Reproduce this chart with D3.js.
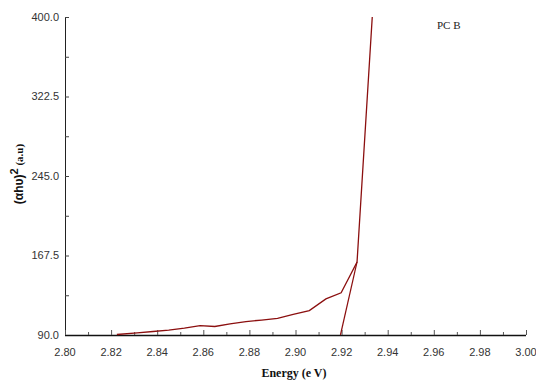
<!DOCTYPE html>
<html>
<head>
<meta charset="utf-8">
<script src="https://cdn.jsdelivr.net/npm/d3@7"></script>
<style>
  body { margin: 0; background: #fff; }
  svg { display: block; }
</style>
</head>
<body>
<svg id="chart" width="536" height="381"></svg>
<script>
// photon energy (eV) and (alpha h nu)^2
const energy = [2.8225, 2.8313, 2.8382, 2.8450, 2.8518, 2.8586, 2.8650, 2.8716,
  2.8785, 2.8853, 2.8922, 2.8990, 2.9060, 2.9132, 2.9198, 2.9267, 2.9333];
const absorb = [90.5, 92.0, 93.4, 94.8, 96.8, 99.2, 98.3, 100.9,
  103.1, 104.6, 106.3, 110.0, 113.8, 125.2, 131.1, 161.2, 400.0];

// linear fit used to read the band gap
const tangentX = [2.9195, 2.9267];
const tangentY = [90.0, 161.2];

const xTicks = [2.80, 2.82, 2.84, 2.86, 2.88, 2.90, 2.92, 2.94, 2.96, 2.98, 3.00];
const yTicks = [90.0, 167.5, 245.0, 322.5, 400.0];

const svg = d3.select('#chart');
const plotLeft = 65, plotRight = 526, plotTop = 17, plotBottom = 335;
const lineColor = '#8b0f0f';

const x = d3.scaleLinear().domain([2.80, 3.00]).range([plotLeft, plotRight]);
const y = d3.scaleLinear().domain([90, 400]).range([plotBottom, plotTop]);

// y axis, ticks point inward
const yAxis = svg.append('g')
	.attr('transform', `translate(${plotLeft},0)`)
	.call(d3.axisRight(y)
		.tickValues(d3.range(0, 9).map(i => 90 + i * 38.75))
		.tickSize(4)
		.tickFormat(''));
yAxis.select('.domain').attr('stroke', '#222').attr('d', `M0.5,${plotTop}V${plotBottom}`);
yAxis.selectAll('.tick line').attr('stroke', '#444');

svg.append('g')
	.selectAll('text')
	.data(yTicks)
	.enter().append('text')
		.attr('x', plotLeft - 6)
		.attr('y', d => y(d))
		.attr('dy', '0.35em')
		.attr('text-anchor', 'end')
		.attr('font-family', 'Liberation Sans, Arial, sans-serif')
		.attr('font-size', '11px')
		.attr('fill', '#333')
		.text(d => d.toFixed(1));

// x axis, ticks every 0.01 pointing up
const xAxis = svg.append('g')
	.attr('transform', `translate(0,${plotBottom})`)
	.call(d3.axisTop(x)
		.tickValues(d3.range(0, 21).map(i => 2.80 + i * 0.01))
		.tickSize(3)
		.tickFormat(''));
xAxis.select('.domain').attr('stroke', '#111').attr('stroke-width', 1.5).attr('d', `M${plotLeft},0.5H${plotRight}`);
xAxis.selectAll('.tick line')
	.attr('stroke', '#555')
	.attr('y2', (d, i) => i % 2 === 0 ? -5 : -3);

svg.append('g')
	.selectAll('text')
	.data(xTicks)
	.enter().append('text')
		.attr('x', d => x(d))
		.attr('y', 356)
		.attr('text-anchor', 'middle')
		.attr('font-family', 'Liberation Sans, Arial, sans-serif')
		.attr('font-size', '11px')
		.attr('fill', '#333')
		.text(d => d.toFixed(2));

// data curve
const line = d3.line()
	.x(d => x(d[0]))
	.y(d => y(d[1]));

svg.append('path')
	.datum(d3.zip(energy, absorb))
	.attr('d', line)
	.attr('fill', 'none')
	.attr('stroke', lineColor)
	.attr('stroke-width', 1.3);

svg.append('path')
	.datum(d3.zip(tangentX, tangentY))
	.attr('d', line)
	.attr('fill', 'none')
	.attr('stroke', lineColor)
	.attr('stroke-width', 1.2);

// titles
svg.append('text')
	.attr('x', 294)
	.attr('y', 377)
	.attr('text-anchor', 'middle')
	.attr('font-family', 'Liberation Serif, Times New Roman, serif')
	.attr('font-weight', 'bold')
	.attr('font-size', '12px')
	.attr('fill', '#111')
	.text('Energy (e V)');

const yTitle = svg.append('text')
	.attr('transform', 'translate(23,174) rotate(-90)')
	.attr('text-anchor', 'middle')
	.attr('font-family', 'Liberation Sans, Arial, sans-serif')
	.attr('font-weight', 'bold')
	.attr('font-size', '12px')
	.attr('fill', '#111');
yTitle.append('tspan').text('(αhυ)');
yTitle.append('tspan').attr('dy', '-0.45em').attr('font-size', '11px').text('2');
yTitle.append('tspan').attr('dy', '0.45em')
	.attr('font-family', 'Liberation Serif, Times New Roman, serif')
	.attr('font-size', '11px')
	.text(' (a.u)');

svg.append('text')
	.attr('x', 437)
	.attr('y', 29)
	.attr('font-family', 'Liberation Serif, Times New Roman, serif')
	.attr('font-size', '11px')
	.attr('fill', '#222')
	.text('PC B');
</script>
</body>
</html>
